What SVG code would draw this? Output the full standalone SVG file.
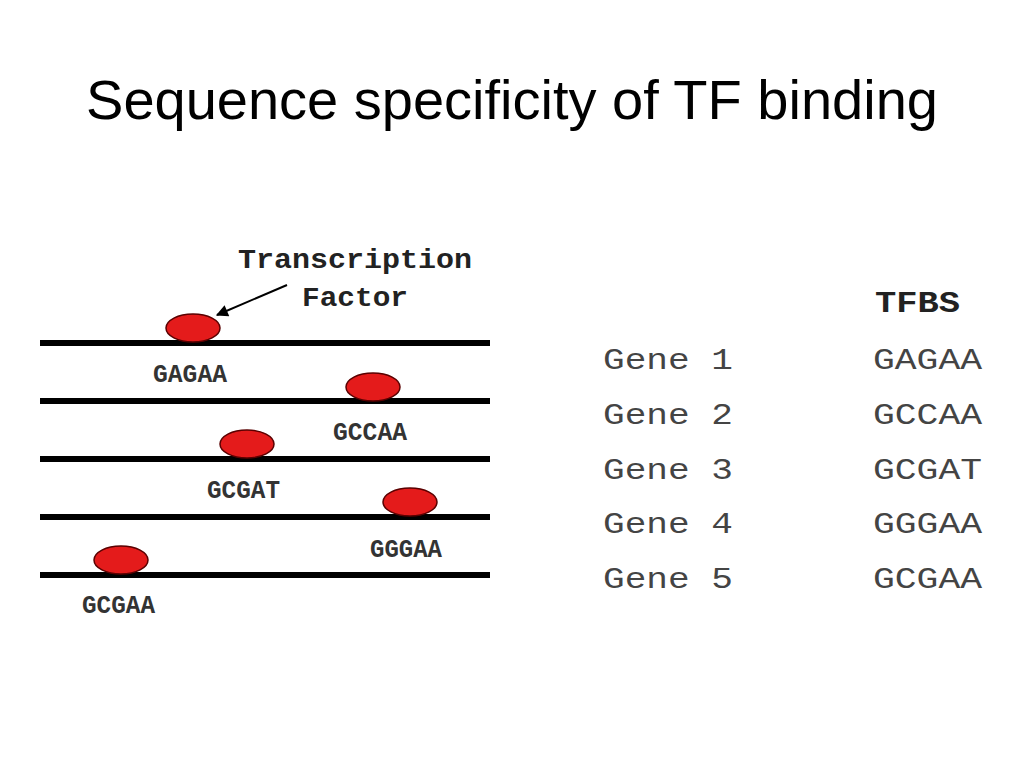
<svg xmlns="http://www.w3.org/2000/svg" width="1024" height="768" viewBox="0 0 1024 768">
<defs>
<style>
.title{font-family:"Liberation Sans",Arial,sans-serif;font-size:56px;fill:#000}
.dna{stroke:#000;stroke-width:6;fill:none}
.tf{fill:#e41b1b;stroke:#5a0000;stroke-width:1.5}
.seq{font-family:"Liberation Mono","Courier New",monospace;font-size:25px;font-weight:bold;fill:#333}
.lbl{font-family:"Liberation Mono","Courier New",monospace;font-size:28px;font-weight:bold;fill:#222}
.gene{font-family:"Liberation Mono","Courier New",monospace;font-size:30px;fill:#444}
.hdr{font-family:"Liberation Mono","Courier New",monospace;font-size:30px;font-weight:bold;fill:#222}
</style>
<marker id="ah" viewBox="0 0 10 10" refX="9" refY="5" markerWidth="14" markerHeight="12" orient="auto" markerUnits="userSpaceOnUse">
<path d="M0,0 L10,5 L0,10 z" fill="#000"/>
</marker>
</defs>
<rect width="1024" height="768" fill="#fff"/>
<text class="title" x="512" y="119" text-anchor="middle">Sequence specificity of TF binding</text>

<g id="label-tf">
<text class="lbl" x="238" y="268" textLength="234" lengthAdjust="spacingAndGlyphs">Transcription</text>
<text class="lbl" x="302" y="306" textLength="106" lengthAdjust="spacingAndGlyphs">Factor</text>
</g>

<g id="connectors">
<line x1="287" y1="285" x2="217" y2="315" stroke="#000" stroke-width="2" marker-end="url(#ah)"/>
</g>

<g id="strand1">
<line class="dna" x1="40" y1="343" x2="490" y2="343"/>
<ellipse class="tf" cx="193" cy="328" rx="27" ry="14"/>
<text class="seq" x="153" y="382" textLength="74" lengthAdjust="spacingAndGlyphs">GAGAA</text>
</g>
<g id="strand2">
<line class="dna" x1="40" y1="401" x2="490" y2="401"/>
<ellipse class="tf" cx="373" cy="387" rx="27" ry="14"/>
<text class="seq" x="333" y="440" textLength="74" lengthAdjust="spacingAndGlyphs">GCCAA</text>
</g>
<g id="strand3">
<line class="dna" x1="40" y1="459" x2="490" y2="459"/>
<ellipse class="tf" cx="247" cy="444" rx="27" ry="14"/>
<text class="seq" x="207" y="498" textLength="73" lengthAdjust="spacingAndGlyphs">GCGAT</text>
</g>
<g id="strand4">
<line class="dna" x1="40" y1="517" x2="490" y2="517"/>
<ellipse class="tf" cx="410" cy="502" rx="27" ry="14"/>
<text class="seq" x="370" y="557" textLength="72" lengthAdjust="spacingAndGlyphs">GGGAA</text>
</g>
<g id="strand5">
<line class="dna" x1="40" y1="575" x2="490" y2="575"/>
<ellipse class="tf" cx="121" cy="560" rx="27" ry="14"/>
<text class="seq" x="82" y="613" textLength="73" lengthAdjust="spacingAndGlyphs">GCGAA</text>
</g>

<g id="table">
<text class="hdr" x="875" y="312" textLength="85" lengthAdjust="spacingAndGlyphs">TFBS</text>
<text class="gene" x="603" y="369" textLength="130" lengthAdjust="spacingAndGlyphs">Gene 1</text>
<text class="gene" x="873" y="369" textLength="109" lengthAdjust="spacingAndGlyphs">GAGAA</text>
<text class="gene" x="603" y="424" textLength="130" lengthAdjust="spacingAndGlyphs">Gene 2</text>
<text class="gene" x="873" y="424" textLength="109" lengthAdjust="spacingAndGlyphs">GCCAA</text>
<text class="gene" x="603" y="479" textLength="130" lengthAdjust="spacingAndGlyphs">Gene 3</text>
<text class="gene" x="873" y="479" textLength="109" lengthAdjust="spacingAndGlyphs">GCGAT</text>
<text class="gene" x="603" y="533" textLength="130" lengthAdjust="spacingAndGlyphs">Gene 4</text>
<text class="gene" x="873" y="533" textLength="109" lengthAdjust="spacingAndGlyphs">GGGAA</text>
<text class="gene" x="603" y="588" textLength="130" lengthAdjust="spacingAndGlyphs">Gene 5</text>
<text class="gene" x="873" y="588" textLength="109" lengthAdjust="spacingAndGlyphs">GCGAA</text>
</g>
</svg>
